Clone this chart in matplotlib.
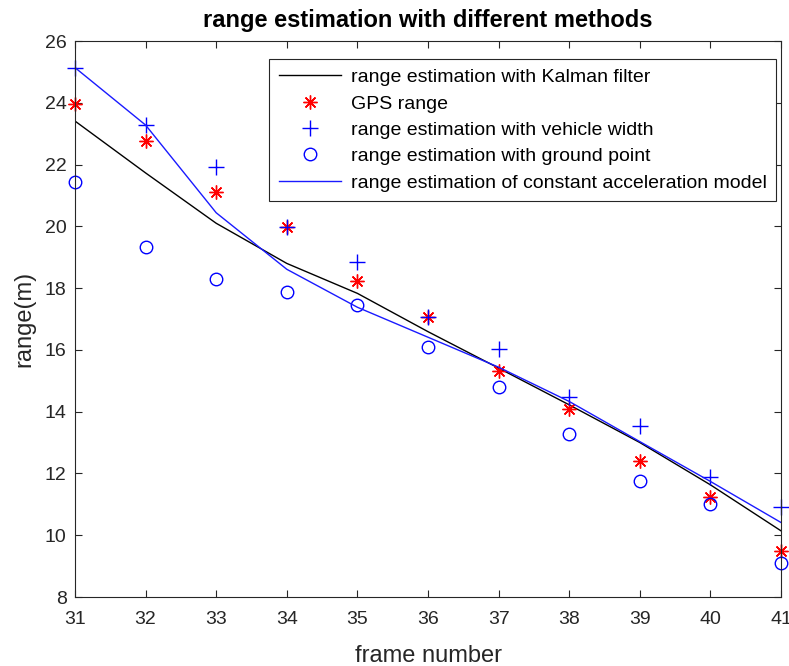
import matplotlib.pyplot as plt

plt.rcParams['font.family'] = ['Liberation Sans', 'DejaVu Sans']

# 帧号
frames = [31, 32, 33, 34, 35, 36, 37, 38, 39, 40, 41]
# 卡尔曼滤波估计
kalman = [23.41, 21.73, 20.10, 18.80, 17.83, 16.59, 15.41, 14.22, 13.00, 11.63, 10.14]
# GPS距离
gps = [23.96, 22.76, 21.10, 19.97, 18.24, 17.08, 15.33, 14.09, 12.39, 11.25, 9.50]
# 车宽估计
width_est = [25.14, 23.28, 21.91, 19.97, 18.86, 17.08, 16.02, 14.49, 13.55, 11.90, 10.93]
# 接地点估计
ground_est = [21.43, 19.32, 18.29, 17.86, 17.45, 16.11, 14.81, 13.28, 11.77, 11.02, 9.10]
# 匀加速模型
const_acc = [25.14, 23.28, 20.44, 18.61, 17.38, 16.41, 15.44, 14.33, 13.03, 11.74, 10.41]

fig = plt.figure(figsize=(7.89, 6.66), dpi=100)
ax = fig.add_axes([0.095, 0.1036, 0.895, 0.8348])

ax.plot(frames, kalman, color='black', lw=1.0, label='range estimation with Kalman filter')
ax.plot(frames, gps, linestyle='none', marker=(8, 2, 0), markersize=10, color='red',
        markeredgewidth=1.0, clip_on=False, label='GPS range')
ax.plot(frames, width_est, linestyle='none', marker='+', markersize=11, color='blue',
        markeredgewidth=1.0, clip_on=False, label='range estimation with vehicle width')
ax.plot(frames, ground_est, linestyle='none', marker='o', markersize=9, markerfacecolor='none',
        markeredgecolor='blue', markeredgewidth=1.0, clip_on=False,
        label='range estimation with ground point')
ax.plot(frames, const_acc, color='#1a1aff', lw=1.0, label='range estimation of constant acceleration model')

ax.set_xlim(31, 41)
ax.set_ylim(8, 26)
ax.set_xticks(range(31, 42))
ax.set_yticks(range(8, 27, 2))
ax.tick_params(direction='in', top=True, right=True, labelsize=14, colors='#262626', length=5)
ax.tick_params(axis='x', pad=10)
ax.tick_params(axis='y', pad=6)
for s in ax.spines.values():
    s.set_color('#262626')
    s.set_linewidth(0.8)

ax.set_xlabel('frame number', fontsize=17, color='#262626', labelpad=12)
ax.set_ylabel('range(m)', fontsize=17, color='#262626', labelpad=7)
ax.set_title('range estimation with different methods', fontsize=17, fontweight='bold', pad=10)

leg = ax.legend(loc='upper right', bbox_to_anchor=(0.993, 0.968), fontsize=14, fancybox=False,
                framealpha=1, edgecolor='#262626', handlelength=3.2, borderpad=0.5,
                labelspacing=0.45, handletextpad=0.5, borderaxespad=0)
leg.get_frame().set_linewidth(0.8)

plt.savefig('out.png', dpi=100)
